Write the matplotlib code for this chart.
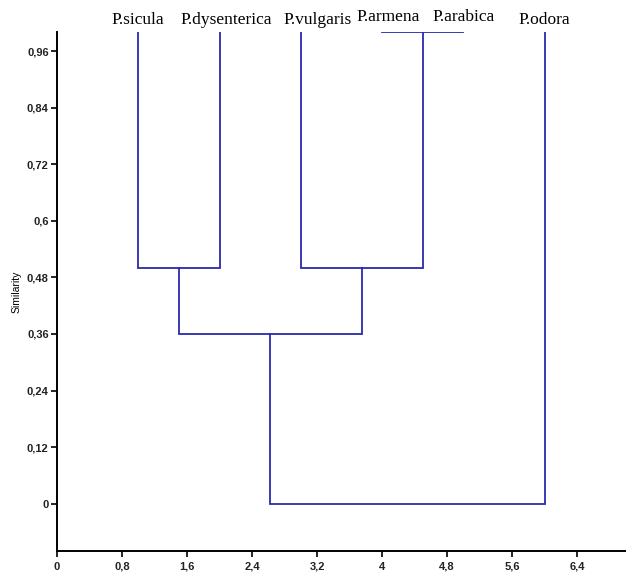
import matplotlib.pyplot as plt
from matplotlib.ticker import FuncFormatter
import numpy as np

leaves = ['P.sicula', 'P.dysenterica', 'P.vulgaris', 'P.armena', 'P.arabica', 'P.odora']
leaf_x = [1, 2, 3, 4, 5, 6]
leaf_height = 1.0
# merges: (left node, right node, similarity); new nodes numbered after the leaves
merges = [(3, 4, 1.0), (0, 1, 0.5), (2, 6, 0.5), (7, 8, 0.36), (9, 5, 0.0)]

xticks = np.arange(0, 6.5, 0.8)
yticks = np.arange(0, 0.97, 0.12)

col = '#2a2aae'

fig = plt.figure(figsize=(6.26, 5.75), dpi=100)
ax = fig.add_axes([0.091, 0.042, 0.909, 0.902])

pos = list(leaf_x)
hgt = [leaf_height] * len(leaves)
for a, b, h in merges:
    ax.plot([pos[a], pos[a], pos[b], pos[b]], [hgt[a], h, h, hgt[b]],
            color=col, lw=1.3, solid_joinstyle='miter')
    pos.append((pos[a] + pos[b]) / 2)
    hgt.append(h)

# label nudges in points (the original labels sit a bit off-centre)
nudge = [(0, 3), (5, 3), (12, 3), (4, 5), (0, 5), (0, 3)]
for name, x, d in zip(leaves, leaf_x, nudge):
    ax.annotate(name, (x, leaf_height), xytext=d, textcoords='offset points',
                ha='center', va='bottom', fontsize=12.5, family='Liberation Serif',
                annotation_clip=False)

ax.set_xlim(0, 7.0)
ax.set_ylim(-0.1, 1.0)
ax.set_xticks(xticks)
ax.set_yticks(yticks)

def fmt(v, p):
    s = ('%.2f' % v).rstrip('0').rstrip('.')
    return s.replace('.', ',')

ax.xaxis.set_major_formatter(FuncFormatter(fmt))
ax.yaxis.set_major_formatter(FuncFormatter(fmt))
ax.tick_params(labelsize=8, length=4, width=1.2, pad=2)
ax.tick_params(axis='x', pad=4)
for lab in ax.get_xticklabels() + ax.get_yticklabels():
    lab.set_fontweight('bold')
    lab.set_family('Liberation Sans')
    lab.set_color('#222222')
ax.spines['top'].set_visible(False)
ax.spines['right'].set_visible(False)
ax.spines['left'].set_linewidth(1.4)
ax.spines['bottom'].set_linewidth(1.4)
ax.set_ylabel('Similarity', fontsize=7.5, family='Liberation Sans', labelpad=4)

fig.savefig('out.png', dpi=100)
